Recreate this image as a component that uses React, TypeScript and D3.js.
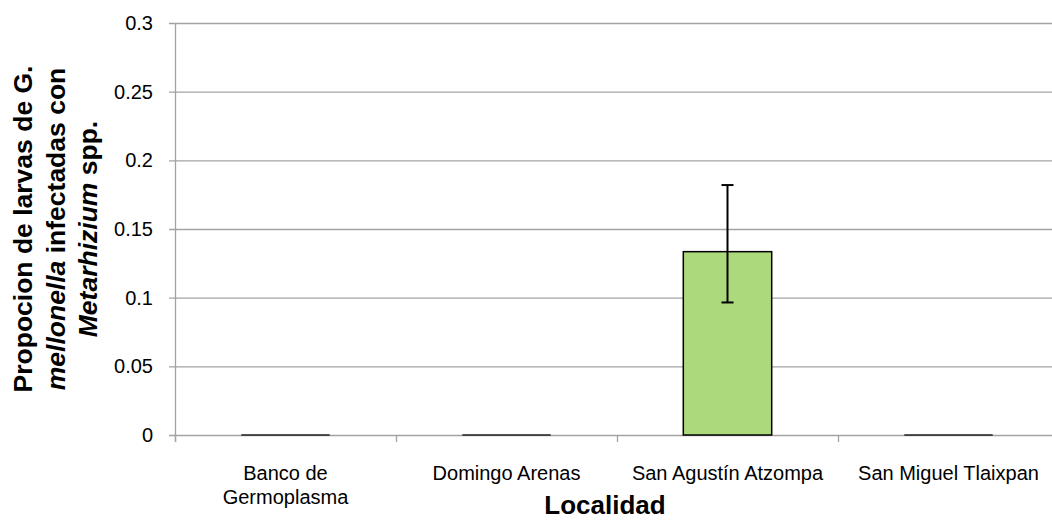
import React from "react";
import * as d3 from "d3";

const categories = [["Banco de", "Germoplasma"], ["Domingo Arenas"], ["San Agustín Atzompa"], ["San Miguel Tlaixpan"]];
const values = [0, 0, 0.1335, 0];
const errPlus = [0, 0, 0.0485, 0];
const errMinus = [0, 0, 0.037, 0];
const yTicks = [0, 0.05, 0.1, 0.15, 0.2, 0.25, 0.3];
const yTickLabels = ["0", "0.05", "0.1", "0.15", "0.2", "0.25", "0.3"];

const W = 1052;
const H = 520;
const FONT = "'Liberation Sans', Arial, Helvetica, sans-serif";

export default function App() {
  const left = 175;
  const right = 1059;
  const top = 23;
  const bottom = 435;
  const x = d3.scaleBand<number>().domain(d3.range(categories.length)).range([left, right]).paddingInner(0).paddingOuter(0);
  const y = d3.scaleLinear().domain([0, 0.3]).range([bottom, top]);
  const bw = x.bandwidth() * 0.4;
  const grid = "#a3a3a3";
  return (
    <svg width={W} height={H} style={{ position: "absolute", left: 0, top: 0, background: "#fff" }} fontFamily={FONT}>
      {yTicks.map((t, i) => (
        <g key={i}>
          <line x1={169} x2={W} y1={y(t) + 0.5} y2={y(t) + 0.5} stroke={grid} strokeWidth={1.3} />
          <text x={153} y={y(t)} dy="0.35em" textAnchor="end" fontSize={20} fill="#000">{yTickLabels[i]}</text>
        </g>
      ))}
      <line x1={left + 0.5} x2={left + 0.5} y1={top} y2={bottom + 7} stroke={grid} strokeWidth={1.3} />
      {d3.range(categories.length + 1).map((i) => {
        const xx = i < categories.length ? x(i)! : right;
        return <line key={i} x1={xx + 0.5} x2={xx + 0.5} y1={bottom} y2={bottom + 7} stroke={grid} strokeWidth={1.3} />;
      })}
      {values.map((v, i) => {
        const cx = x(i)! + x.bandwidth() / 2;
        const h = bottom - y(v);
        return (
          <g key={i}>
            {v > 0 ? (
              <rect x={cx - bw / 2} y={y(v)} width={bw} height={h} fill="#acd97b" stroke="#000" strokeWidth={1.5} />
            ) : (
              <line x1={cx - bw / 2} x2={cx + bw / 2} y1={bottom} y2={bottom} stroke="#222" strokeWidth={1.5} />
            )}
            {errPlus[i] > 0 && (
              <g stroke="#000" strokeWidth={2}>
                <line x1={cx} x2={cx} y1={y(v + errPlus[i])} y2={y(v - errMinus[i])} />
                <line x1={cx - 6} x2={cx + 6} y1={y(v + errPlus[i])} y2={y(v + errPlus[i])} />
                <line x1={cx - 6} x2={cx + 6} y1={y(v - errMinus[i])} y2={y(v - errMinus[i])} />
              </g>
            )}
          </g>
        );
      })}
      {categories.map((lines, i) => (
        <text key={i} x={x(i)! + x.bandwidth() / 2} y={480} textAnchor="middle" fontSize={20} fill="#000">
          {lines.map((l, j) => (
            <tspan key={j} x={x(i)! + x.bandwidth() / 2} y={480 + j * 24}>{l}</tspan>
          ))}
        </text>
      ))}
      <text x={605} y={514} textAnchor="middle" fontSize={26} fontWeight="bold" fill="#000">Localidad</text>
      <g transform="translate(0,229) rotate(-90)" fontSize={26.5} fontWeight="bold" fill="#000">
        <text x={0} y={32} textAnchor="middle">Propocion de larvas de G.</text>
        <text x={0} y={64.5} textAnchor="middle">
          <tspan fontStyle="italic">mellonella</tspan> infectadas con
        </text>
        <text x={0} y={97} textAnchor="middle">
          <tspan fontStyle="italic">Metarhizium</tspan> spp.
        </text>
      </g>
    </svg>
  );
}
